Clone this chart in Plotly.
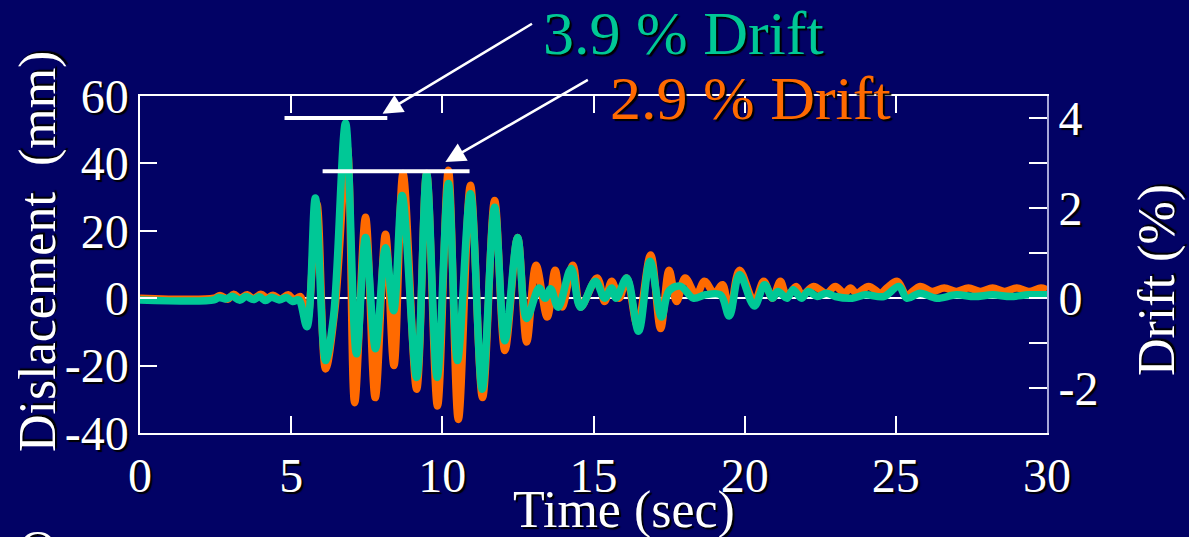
import plotly.graph_objects as go

# ---- data ----
time_orange = [0, 2.45, 2.65, 2.9, 3.1, 3.3, 3.55, 3.75, 4.0, 4.2,
               4.4, 4.65, 4.9, 5.1, 5.3, 5.52, 5.85, 6.14, 6.45, 6.85,
               7.1, 7.46, 7.78, 8.12, 8.4, 8.7, 9.15, 9.48, 9.84, 10.2,
               10.53, 10.93, 11.33, 11.73, 12.07, 12.49, 12.79, 13.1, 13.47, 13.73,
               13.96, 14.32, 14.57, 15.12, 15.37, 15.6, 15.85, 16.1, 16.45, 16.89,
               17.22, 17.5, 17.75, 18.03, 18.4, 18.67, 19.0, 19.27, 19.49, 19.83,
               20.32, 20.63, 20.92, 21.18, 21.4, 21.7, 21.9, 22.28, 22.7, 23.0,
               23.3, 23.5, 23.7, 24.1, 24.5, 24.7, 25.05, 25.36, 25.8, 26.2,
               26.6, 27.0, 27.4, 27.8, 28.2, 28.6, 29.0, 29.4, 29.8, 30]
disp_orange = [0, 0, 0.8, -0.3, 1.2, 0, 1.0, -0.2, 1.2, 0,
               0.9, -0.3, 1.0, -0.5, 0.5, -7, 28, -21, -3, 45,
               -31, 24, -29.5, 19, -20, 37, -27, 37, -32, 38,
               -36, 33.5, -29.5, 29, -15.5, 18, -13, 9.8, -5.6, 8.3,
               -2.6, 9.8, -2.6, 6, -1, 5, 0, 6, -8, 12.8,
               -9, 8.3, -1, 6, 1, 5, 1.5, 4, -5, 8.3,
               -1, 5, 0, 5, 0.5, 3.5, 1, 3.5, 1.5, 3.5,
               1.5, 3, 1.5, 3.5, 1.5, 3, 5, 1, 3.5, 2,
               3, 2, 3, 2, 3, 2, 3, 2, 3, 2.5]

time_green = [0, 2.45, 2.6, 2.85, 3.05, 3.3, 3.5, 3.75, 3.95, 4.15,
              4.35, 4.6, 4.85, 5.05, 5.25, 5.52, 5.8, 6.14, 6.4, 6.8,
              7.16, 7.46, 7.79, 8.12, 8.39, 8.67, 9.15, 9.48, 9.83, 10.2,
              10.5, 10.93, 11.32, 11.73, 12.07, 12.49, 12.79, 13.2, 13.4, 13.58,
              13.83, 14.26, 14.57, 15.06, 15.37, 15.6, 15.75, 16.1, 16.49, 16.87,
              17.25, 17.5, 17.87, 18.3, 18.7, 19.2, 19.49, 19.83, 20.32, 20.66,
              20.92, 21.1, 21.4, 21.6, 21.88, 22.1, 22.4, 22.7, 23.0, 23.56,
              24.0, 24.6, 25.1, 25.36, 25.8, 26.35, 27.0, 27.6, 28.2, 28.8,
              29.4, 30]
disp_green = [-0.5, -0.5, 0.2, -0.2, 0.6, -0.6, 0.5, -0.4, 0.4, -0.7,
              0.3, -0.5, 0.2, -1.0, -0.5, -8.5, 29.7, -18.5, -5.5, 52,
              -16.5, 18, -15, 15, -3.7, 30.5, -23.5, 37, -23.5, 34,
              -18.5, 31, -27, 27, -12.6, 18, -6, 3, 0, 2.8,
              -2.7, 8.8, -2.7, 5, 0, 3, 0, 6, -9.8, 11,
              -5.6, 2.2, 3.6, 0, 1, 1, -5.3, 7, -2.3, 4,
              0, 2, 0, 2.5, 0, 2, 0.5, 1.5, 0.5, 0,
              1, 0.5, 3.5, 0, 1.5, 0, 1, 0.5, 1, 0.5,
              1, 1]

x_ticks = [0, 5, 10, 15, 20, 25, 30]
y_ticks = [-40, -20, 0, 20, 40, 60]
y_labels = ["-40", "-20", "0", "20", "40", "60"]
drift_ticks = [-2, -1, 0, 1, 2, 3, 4]
drift_labels = ["-2", "", "0", "", "2", "", "4"]
mm_per_percent = 13.35  # displacement (mm) for 1 % drift

label_green = "3.9 % Drift"
label_orange = "2.9 % Drift"

# ---- styling ----
BG = "#020265"
ORANGE = "#FF6A00"
GREEN = "#00C896"
FONT = "Liberation Serif"
SHADOW = "2px 2px 1px black"

fig = go.Figure()
fig.add_trace(go.Scatter(x=time_orange, y=disp_orange, mode="lines",
                         line=dict(color=ORANGE, width=7.5, shape="spline", smoothing=1.0),
                         showlegend=False, hoverinfo="skip"))
fig.add_trace(go.Scatter(x=time_green, y=disp_green, mode="lines",
                         line=dict(color=GREEN, width=7.5, shape="spline", smoothing=1.0),
                         showlegend=False, hoverinfo="skip"))
fig.add_trace(go.Scatter(x=[None], y=[None], yaxis="y2", showlegend=False, hoverinfo="skip"))

tickfont = dict(family=FONT, size=48, color="white", shadow=SHADOW)

fig.update_layout(
    width=1189, height=537,
    margin=dict(l=140, r=142, t=96, b=104),
    paper_bgcolor=BG, plot_bgcolor=BG,
    xaxis=dict(range=[0, 30], tickvals=x_ticks, ticks="inside", ticklen=17,
               tickcolor="white", tickwidth=1.5, showline=True, linecolor="white",
               linewidth=1.5, mirror="ticks", showgrid=False, zeroline=False,
               tickfont=tickfont, ticklabelstandoff=0),
    yaxis=dict(range=[-40, 60], tickvals=y_ticks, ticktext=y_labels, ticks="inside",
               ticklen=17, tickcolor="white", tickwidth=1.5, showline=True,
               linecolor="white", linewidth=1.5, showgrid=False, zeroline=True,
               zerolinecolor="white", zerolinewidth=1.5, tickfont=tickfont),
    yaxis2=dict(range=[-40 / mm_per_percent, 60 / mm_per_percent], overlaying="y",
                side="right", tickvals=drift_ticks, ticktext=drift_labels,
                ticks="inside", ticklen=18, tickcolor="white", tickwidth=1.5,
                showline=True, linecolor="#A8A8D8", linewidth=2, showgrid=False,
                zeroline=False, tickfont=tickfont),
)

def px2paper(px, py):
    return (px - 140) / 907, (433 - py) / 337

annos = []
# axis titles
for text, (px, py), ang in [
    ("Time (sec)", (624, 510), 0),
    ("Dislacement  (mm)", (38, 252), -90),
    ("Drift (%)", (1157, 280), -90),
]:
    xp, yp = px2paper(px, py)
    annos.append(dict(text=text, x=xp, y=yp, xref="paper", yref="paper",
                      showarrow=False, textangle=ang, xanchor="center", yanchor="middle",
                      font=dict(family=FONT, size=52, color="white", shadow=SHADOW)))
# drift labels
for text, color, (px, py) in [(label_green, GREEN, (683, 33)),
                              (label_orange, ORANGE, (750, 98))]:
    xp, yp = px2paper(px, py)
    annos.append(dict(text=text, x=xp, y=yp, xref="paper", yref="paper",
                      showarrow=False, xanchor="center", yanchor="middle",
                      font=dict(family=FONT, size=62, color=color, shadow=SHADOW)))
# partially visible glyph at the bottom-left edge
xp, yp = px2paper(38, 519)
annos.append(dict(text="O", x=xp, y=yp, xref="paper", yref="paper", showarrow=False,
                  xanchor="center", yanchor="top",
                  font=dict(family=FONT, size=52, color="white", shadow=SHADOW)))
# arrows
for (tx, ty, ax, ay) in [(8.02, 54.7, 151, -91), (10.1, 40.4, 144, -83)]:
    annos.append(dict(text="", x=tx, y=ty, xref="x", yref="y", ax=ax, ay=ay,
                      showarrow=True, arrowhead=2, arrowsize=1.6, arrowwidth=2.5,
                      arrowcolor="white", standoff=0, startstandoff=0))
fig.update_layout(annotations=annos)

# peak level bars
for (x0, x1, yv) in [(4.78, 8.18, 53.5), (6.04, 10.9, 37.7)]:
    fig.add_shape(type="line", x0=x0, x1=x1, y0=yv, y1=yv, xref="x", yref="y",
                  line=dict(color="white", width=4))

fig.write_html("out.html", config={"displayModeBar": False},
               post_script="document.body.style.margin='0';document.body.style.background='%s';" % BG)
